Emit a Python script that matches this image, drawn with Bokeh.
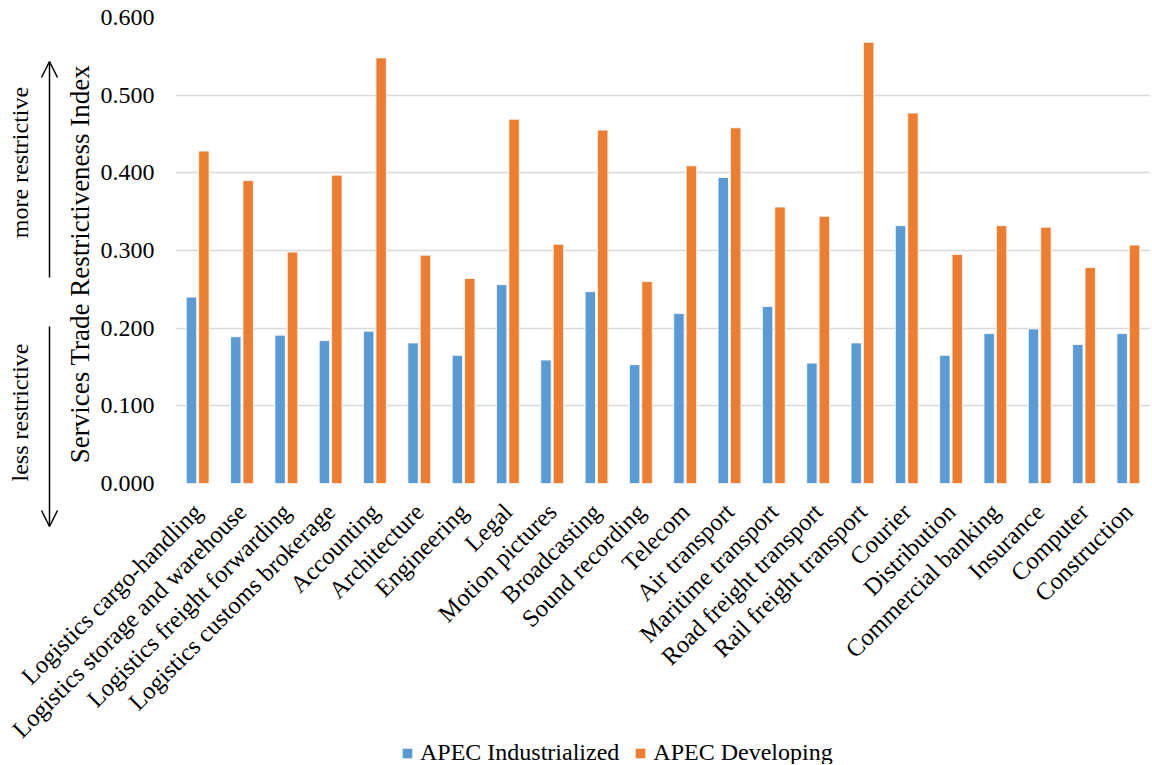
import math
from bokeh.plotting import figure
from bokeh.layouts import column
from bokeh.models import (ColumnDataSource, Range1d, FixedTicker, NumeralTickFormatter,
                          Legend, LegendItem, Label, Arrow, OpenHead)
from bokeh.transform import dodge
from bokeh.embed import file_html
from bokeh.resources import INLINE

categories = [
    "Logistics cargo-handling", "Logistics storage and warehouse",
    "Logistics freight forwarding", "Logistics customs brokerage",
    "Accounting", "Architecture", "Engineering", "Legal", "Motion pictures",
    "Broadcasting", "Sound recording", "Telecom", "Air transport",
    "Maritime transport", "Road freight transport", "Rail freight transport",
    "Courier", "Distribution", "Commercial banking", "Insurance", "Computer",
    "Construction",
]
industrialized = [0.240, 0.189, 0.191, 0.184, 0.196, 0.181, 0.165, 0.256, 0.159,
                  0.247, 0.153, 0.219, 0.394, 0.228, 0.155, 0.181, 0.332, 0.165,
                  0.193, 0.199, 0.179, 0.193]
developing = [0.428, 0.390, 0.298, 0.397, 0.548, 0.294, 0.264, 0.469, 0.308,
              0.455, 0.260, 0.409, 0.458, 0.356, 0.344, 0.568, 0.477, 0.295,
              0.332, 0.330, 0.278, 0.307]
series_names = ["APEC Industrialized", "APEC Developing"]
y_ticks = [0.0, 0.1, 0.2, 0.3, 0.4, 0.5, 0.6]

FONT = "Liberation Serif"
BLUE = "#5B9BD5"
ORANGE = "#ED7D31"
W, H = 1150, 764
LEFT = 175

src = ColumnDataSource(dict(cat=categories, ind=industrialized, dev=developing))

# ---------------- main chart ----------------
p = figure(x_range=categories, y_range=Range1d(0, 0.6), width=W, height=H,
           output_backend="svg", toolbar_location=None,
           min_border_left=LEFT, min_border_right=0, min_border_top=17,
           min_border_bottom=H - 17 - 466)
p.outline_line_color = None

p.vbar(x=dodge("cat", -0.14, range=p.x_range), top="ind", width=0.235, source=src,
       fill_color=BLUE, line_color="white", line_width=0.8)
p.vbar(x=dodge("cat", 0.14, range=p.x_range), top="dev", width=0.235, source=src,
       fill_color=ORANGE, line_color="white", line_width=0.8)

p.xgrid.grid_line_color = None
p.ygrid.grid_line_color = "#D9D9D9"
p.ygrid.grid_line_width = 1.5
p.yaxis.ticker = FixedTicker(ticks=y_ticks)
p.yaxis.formatter = NumeralTickFormatter(format="0.000")
p.yaxis.axis_line_color = None
p.yaxis.major_tick_line_color = None
p.yaxis.minor_tick_line_color = None
p.yaxis.major_tick_out = 0
p.yaxis.major_tick_in = 0
p.yaxis.major_label_text_font = FONT
p.yaxis.major_label_text_font_size = "24px"
p.yaxis.major_label_text_color = "#000000"
p.yaxis.major_label_standoff = 21
p.yaxis.axis_label = "Services Trade Restrictiveness Index\u00a0\u00a0\u00a0\u00a0"
p.yaxis.axis_label_text_font = FONT
p.yaxis.axis_label_text_font_size = "27px"
p.yaxis.axis_label_text_font_style = "normal"
p.yaxis.axis_label_text_color = "#000000"
p.yaxis.axis_label_standoff = 3

p.xaxis.axis_line_color = None
p.xaxis.major_tick_line_color = None
p.xaxis.minor_tick_line_color = None
p.xaxis.major_tick_out = 0
p.xaxis.major_tick_in = 0
p.xaxis.major_label_orientation = math.pi / 4
p.xaxis.major_label_text_font = FONT
p.xaxis.major_label_text_font_size = "24.5px"
p.xaxis.major_label_text_color = "#000000"
p.xaxis.major_label_standoff = 24

# ---------------- transparent overlay for side notes and legend ----------------
ov = figure(width=W + LEFT, height=H, x_range=Range1d(0, W), y_range=Range1d(0, H),
            output_backend="svg", toolbar_location=None,
            min_border_left=LEFT, min_border_right=0, min_border_top=0, min_border_bottom=0,
            x_axis_type=None, y_axis_type=None, margin=(-H, 0, 0, -LEFT))
ov.outline_line_color = None
ov.background_fill_color = None
ov.border_fill_color = None
ov.xgrid.visible = False
ov.ygrid.visible = False


def X(px):
    return px - 1


def Y(py):
    return H + 1 - py


for txt, yc in [("more restrictive", 163), ("less restrictive", 413)]:
    ov.add_layout(Label(x=X(20), y=Y(yc), x_units="screen", y_units="screen",
                        text=txt, angle=math.pi / 2,
                        text_align="center", text_baseline="middle",
                        text_font=FONT, text_font_size="24px", text_color="#000000"))
for y0, y1 in [(278, 62), (327, 527)]:
    ov.add_layout(Arrow(x_start=X(50), y_start=Y(y0), x_end=X(50), y_end=Y(y1),
                        start_units="screen", end_units="screen",
                        line_width=1.5, line_color="black",
                        end=OpenHead(size=16, line_width=1.5, line_color="black")))

# dummy renderers (zero height) that only provide legend swatches
d1 = ov.vbar(x=[0], top=[0], bottom=[0], width=0, fill_color=BLUE, line_color=None)
d2 = ov.vbar(x=[0], top=[0], bottom=[0], width=0, fill_color=ORANGE, line_color=None)
legend = Legend(items=[LegendItem(label=series_names[0], renderers=[d1]),
                       LegendItem(label=series_names[1], renderers=[d2])],
                orientation="horizontal", location=(X(402), -2),
                label_text_font=FONT, label_text_font_size="24px",
                label_text_color="#000000", label_standoff=7,
                glyph_width=12, glyph_height=12, spacing=15, border_line_color=None,
                background_fill_alpha=0, margin=0, padding=0)
ov.add_layout(legend, "center")

layout = column(p, ov)
open("out.html", "w").write(file_html(layout, INLINE))
